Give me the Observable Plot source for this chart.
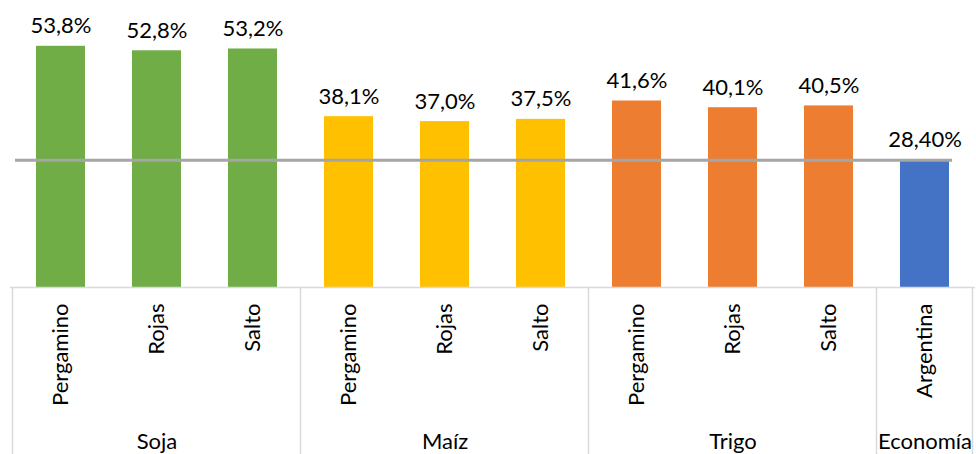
<!DOCTYPE html>
<html>
<head>
<meta charset="utf-8">
<script src="https://cdn.jsdelivr.net/npm/d3@7"></script>
<script src="https://cdn.jsdelivr.net/npm/@observablehq/plot@0.6"></script>
<style>
  html, body { margin: 0; padding: 0; background: #fff; }
  svg { font-family: Lato, "Open Sans", sans-serif; }
</style>
</head>
<body>
<div id="chart"></div>
<script>
const groups = ["Soja","Soja","Soja","Maíz","Maíz","Maíz","Trigo","Trigo","Trigo","Economía"];
const places = ["Pergamino","Rojas","Salto","Pergamino","Rojas","Salto","Pergamino","Rojas","Salto","Argentina"];
const values = [53.8, 52.8, 53.2, 38.1, 37.0, 37.5, 41.6, 40.1, 40.5, 28.4];
const valueLabels = ["53,8%","52,8%","53,2%","38,1%","37,0%","37,5%","41,6%","40,1%","40,5%","28,40%"];
const groupNames = ["Soja","Maíz","Trigo","Economía"];
const groupColors = ["#70AD47","#FFC000","#ED7D31","#4472C4"];
const referenceValue = 28.4;

const data = values.map((v, i) => ({
  key: groups[i] + "|" + places[i],
  group: groups[i],
  place: places[i],
  value: v,
  label: valueLabels[i]
}));
const keys = data.map(d => d.key);

// middle category of each group for group label
const groupMid = groupNames.map(g => {
  const ks = data.filter(d => d.group === g).map(d => d.key);
  return {group: g, key: ks[Math.floor(ks.length / 2)]};
});

const W = 976, H = 454, mL = 10, mR = 1, mT = 18, mB = 167;
const FS = 22;

const chart = Plot.plot({
  width: W,
  height: H,
  marginLeft: mL,
  marginRight: mR,
  marginTop: mT,
  marginBottom: mB,
  style: {fontFamily: "Lato, 'Open Sans', sans-serif", fontSize: FS + "px", background: "#fff"},
  x: {type: "band", domain: keys, paddingInner: 0.49, paddingOuter: 0.245, axis: null},
  y: {domain: [0, 60], axis: null},
  color: {domain: groupNames, range: groupColors},
  marks: [
    Plot.barY(data, {x: "key", y: "value", fill: "group"}),
    Plot.ruleY([0], {stroke: "#D9D9D9", strokeWidth: 1.5}),
    Plot.ruleY([referenceValue], {stroke: "#A5A5A5", strokeWidth: 3, insetLeft: 5, insetRight: 23}),
    Plot.text(data, {x: "key", y: "value", text: "label", lineAnchor: "bottom", dy: -13, fill: "#000", fontSize: FS}),
    Plot.text(data, {x: "key", text: "place", frameAnchor: "bottom", rotate: -90, textAnchor: "end", lineAnchor: "middle", dy: 16, fill: "#000", fontSize: FS}),
    Plot.text(groupMid, {x: "key", text: "group", frameAnchor: "bottom", lineAnchor: "middle", dy: 154, fill: "#000", fontSize: FS})
  ]
});

// group separators below the axis, positioned from the chart's own x scale
const xs = chart.scale("x");
const gap = (xs.step - xs.bandwidth) / 2;
const bounds = [];
groupNames.forEach(g => {
  const ks = data.filter(d => d.group === g).map(d => d.key);
  bounds.push(xs.apply(ks[0]) - gap);
});
const lastKey = keys[keys.length - 1];
bounds.push(xs.apply(lastKey) + xs.bandwidth + gap);
d3.select(chart).append("g")
  .attr("stroke", "#D9D9D9")
  .attr("stroke-width", 1.5)
  .selectAll("line")
  .data(bounds)
  .join("line")
  .attr("x1", d => Math.min(d, W - 1))
  .attr("x2", d => Math.min(d, W - 1))
  .attr("y1", H - mB)
  .attr("y2", H);

document.getElementById("chart").appendChild(chart);
</script>
</body>
</html>
